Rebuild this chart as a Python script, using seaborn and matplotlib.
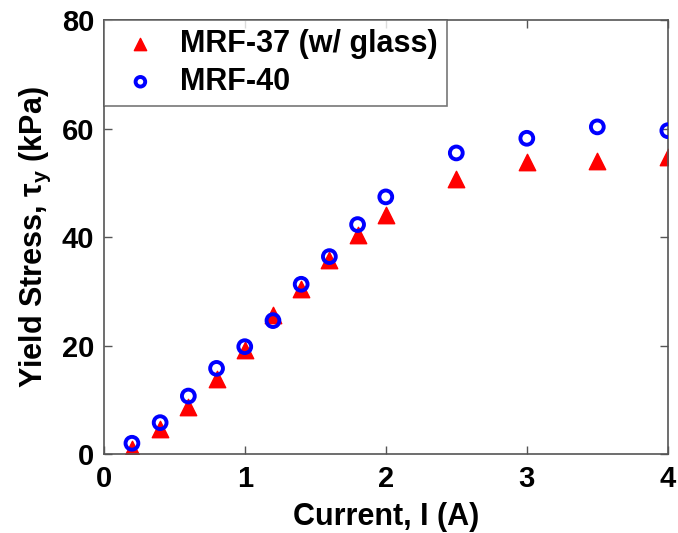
import numpy as np
import pandas as pd
import matplotlib
matplotlib.use("Agg")
import matplotlib.pyplot as plt
import seaborn as sns

# ---- data ----
current = [0.2, 0.4, 0.6, 0.8, 1.0, 1.2, 1.4, 1.6, 1.8, 2.0, 2.5, 3.0, 3.5, 4.0]
mrf37 = [1.0, 4.6, 8.6, 13.8, 19.2, 25.6, 30.4, 35.8, 40.4, 44.1, 50.7, 53.8, 54.1, 54.7]
mrf40 = [2.0, 5.8, 10.7, 15.8, 19.8, 24.6, 31.3, 36.4, 42.3, 47.4, 55.5, 58.2, 60.3, 59.6]
series_names = ["MRF-37 (w/ glass)", "MRF-40"]
x_ticks = [0, 1, 2, 3, 4]
y_ticks = [0, 20, 40, 60, 80]

df = pd.DataFrame({
    "current": current * 2,
    "stress": mrf37 + mrf40,
    "fluid": [series_names[0]] * len(mrf37) + [series_names[1]] * len(mrf40),
})

sns.set_style("white")
plt.rcParams["font.family"] = ["Liberation Sans", "DejaVu Sans"]
plt.rcParams["font.weight"] = "bold"
plt.rcParams["text.color"] = "black"
plt.rcParams["axes.labelcolor"] = "black"
plt.rcParams["xtick.color"] = "black"
plt.rcParams["ytick.color"] = "black"
plt.rcParams["mathtext.fontset"] = "custom"
plt.rcParams["mathtext.bf"] = "Liberation Sans:bold"
plt.rcParams["mathtext.rm"] = "Liberation Sans:bold"
plt.rcParams["mathtext.default"] = "bf"

FS = 22

fig = plt.figure(figsize=(6.78, 5.33), dpi=100)
ax = fig.add_axes([0.153, 0.148, 0.832, 0.8145])

# triangles for MRF-37
sub37 = df[df.fluid == series_names[0]]
sns.scatterplot(data=sub37, x="current", y="stress", ax=ax, marker="^",
                s=140, color="red", edgecolor="red", linewidth=1,
                label=series_names[0], zorder=2)
# open circles for MRF-40
sub40 = df[df.fluid == series_names[1]]
sns.scatterplot(data=sub40, x="current", y="stress", ax=ax, marker="o",
                s=85, facecolor="none", edgecolor="blue", linewidth=2.8,
                label=series_names[1], zorder=3)

ax.set_xlim(0, 4)
ax.set_ylim(0, 80)
ax.set_xticks(x_ticks)
ax.set_yticks(y_ticks)
ax.tick_params(direction="in", length=6, width=1, labelsize=21, pad=8,
               top=True, right=True, bottom=True, left=True,
               color="#555555", labelcolor="black")
ax.tick_params(axis="y", pad=7)
for lbl in ax.get_xticklabels() + ax.get_yticklabels():
    lbl.set_fontweight("bold")
for sp in ax.spines.values():
    sp.set_color("#555555")
    sp.set_linewidth(1.2)

ax.set_xlabel("Current, I (A)", fontsize=FS, fontweight="bold", labelpad=6)
ax.set_ylabel(r"Yield Stress, $\tau_y$ (kPa)", fontsize=FS, fontweight="bold",
              labelpad=6)

leg = ax.legend(loc="upper left", fontsize=FS, frameon=True, fancybox=False,
                borderaxespad=0, handletextpad=0.4, borderpad=0.3,
                labelspacing=0.25, handlelength=1.8, markerscale=0.75)
leg.get_frame().set_edgecolor("#555555")
leg.get_frame().set_linewidth(1.2)
for t in leg.get_texts():
    t.set_fontweight("bold")

fig.savefig("out.png", dpi=100)
